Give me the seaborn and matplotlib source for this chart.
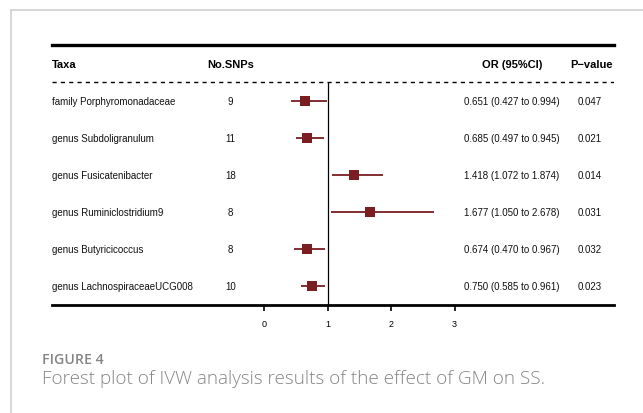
import matplotlib
matplotlib.use("Agg")
import matplotlib.pyplot as plt
from matplotlib.lines import Line2D
import seaborn as sns
import pandas as pd

# ---- data ----
taxa = ["family Porphyromonadaceae", "genus Subdoligranulum", "genus Fusicatenibacter",
        "genus Ruminiclostridium9", "genus Butyricicoccus", "genus LachnospiraceaeUCG008"]
nsnps = [9, 11, 18, 8, 8, 10]
or_est = [0.651, 0.685, 1.418, 1.677, 0.674, 0.750]
ci_lo = [0.427, 0.497, 1.072, 1.050, 0.470, 0.585]
ci_hi = [0.994, 0.945, 1.874, 2.678, 0.967, 0.961]
pvals = ["0.047", "0.021", "0.014", "0.031", "0.032", "0.023"]
xticks = [0, 1, 2, 3]
headers = ["Taxa", "No.SNPs", "OR (95%CI)", "P\u2212value"]
caption_title = "FIGURE 4"
caption_text = "Forest plot of IVW analysis results of the effect of GM on SS."

df = pd.DataFrame({"taxa": taxa, "n": nsnps, "or": or_est, "lo": ci_lo, "hi": ci_hi,
                   "p": pvals, "row": range(len(taxa))})

sns.set_theme(style="white")
plt.rcParams["font.family"] = ["Liberation Sans", "DejaVu Sans"]

W, H = 643, 414
fig = plt.figure(figsize=(W / 100, H / 100), dpi=100)

def fx(px):
    return px / W

def fy(py):
    return 1 - py / H

# figure frame (light gray, left + top)
fig.add_artist(Line2D([fx(11), fx(11)], [fy(11), fy(414)], color="#cfcfcf", lw=1.2))
fig.add_artist(Line2D([fx(11), fx(643)], [fy(11), fy(11)], color="#cfcfcf", lw=1.2))

# axes covering the table region
left_px, right_px, top_px, bot_px = 52, 614, 45.7, 306
ax = fig.add_axes([fx(left_px), fy(bot_px), fx(right_px - left_px), (bot_px - top_px) / H])
x0_px, unit_px = 264, 63.5
ax.set_xlim((left_px - x0_px) / unit_px, (right_px - x0_px) / unit_px)
row0_px, row_step = 102, 37
ax.set_ylim((bot_px - row0_px) / row_step, (top_px - row0_px) / row_step)

color = "#7a1e22"
ax.hlines(df["row"], df["lo"], df["hi"], color=color, lw=1.3, zorder=2)
sns.scatterplot(data=df, x="or", y="row", marker="s", s=62, color=color,
                edgecolor=color, linewidth=0, ax=ax, zorder=3, legend=False)

# reference line at 1
dash_y = (83 - row0_px) / row_step
ax.vlines(1, dash_y, (bot_px - row0_px) / row_step, color="black", lw=0.9, zorder=1)

# header separator line
ax.axhline(dash_y, color="black", lw=1.0, ls=(0, (3, 3)), zorder=1)

# spines
for s in ["left", "right"]:
    ax.spines[s].set_visible(False)
ax.spines["top"].set_linewidth(2.4)
ax.spines["top"].set_color("black")
ax.spines["bottom"].set_linewidth(2.0)
ax.spines["bottom"].set_color("black")

ax.set_xticks(xticks)
ax.set_xticklabels([str(t) for t in xticks])
ax.set_yticks([])
ax.tick_params(axis="x", bottom=True, direction="out", length=4, width=1.2,
               color="black", labelsize=6.5, pad=6, labelcolor="black")
ax.set_xlabel("")
ax.set_ylabel("")

# table text
tr = ax.get_yaxis_transform()  # x in axes fraction, y in data

def axfrac(px):
    return (px - left_px) / (right_px - left_px)

hdr_y = -1
ax.text(axfrac(52), hdr_y, headers[0], transform=tr, ha="left", va="center",
        fontsize=8, fontweight="bold", color="black")
ax.text(axfrac(230.5), hdr_y, headers[1], transform=tr, ha="center", va="center",
        fontsize=8, fontweight="bold", color="black")
ax.text(axfrac(512), hdr_y, headers[2], transform=tr, ha="center", va="center",
        fontsize=8, fontweight="bold", color="black")
ax.text(axfrac(591.5), hdr_y, headers[3], transform=tr, ha="center", va="center",
        fontsize=8, fontweight="bold", color="black")

for i, r in df.iterrows():
    ax.text(axfrac(52), r["row"], r["taxa"], transform=tr, ha="left", va="center",
            fontsize=7, color="#111111")
    ax.text(axfrac(230.5), r["row"], str(r["n"]), transform=tr, ha="center", va="center",
            fontsize=7, color="#111111")
    ax.text(axfrac(512), r["row"], f"{r['or']:.3f} ({r['lo']:.3f} to {r['hi']:.3f})",
            transform=tr, ha="center", va="center", fontsize=7, color="#111111")
    ax.text(axfrac(590), r["row"], r["p"], transform=tr, ha="center", va="center",
            fontsize=7, color="#111111")

# caption
fig.text(fx(42), fy(364), caption_title, ha="left", va="baseline", fontsize=10.2,
         color="#858585", family=["Open Sans", "DejaVu Sans"], fontweight="semibold")
fig.text(fx(42), fy(384), caption_text, ha="left", va="baseline", fontsize=13.6,
         color="#858585", family=["Open Sans", "DejaVu Sans"], fontweight="light")

fig.savefig("out.png", dpi=100)
